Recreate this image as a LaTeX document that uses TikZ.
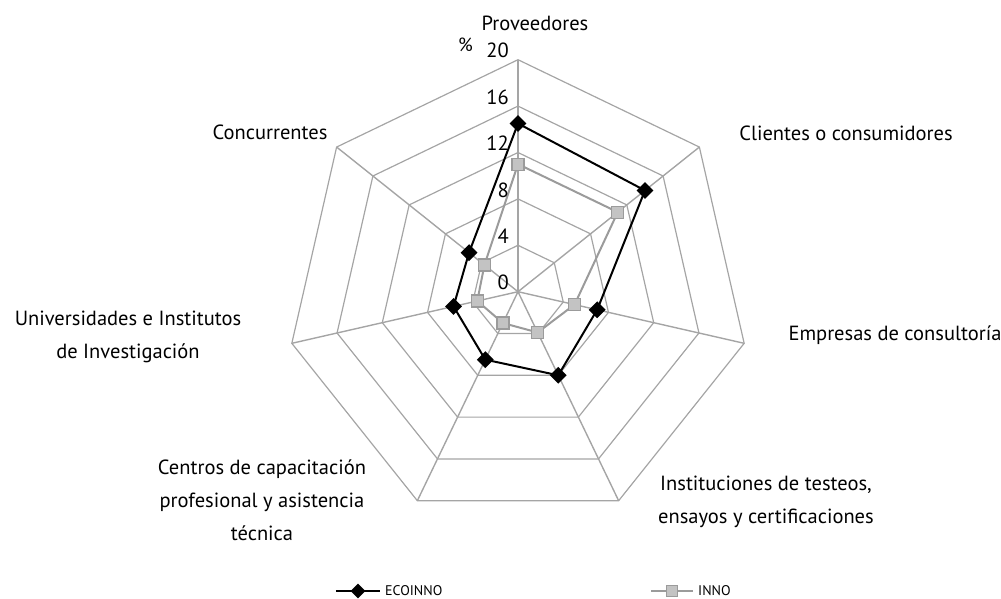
\documentclass[tikz,border=0pt]{standalone}
\usepackage{fontspec}
\setmainfont{PT Sans}
\usetikzlibrary{shapes.geometric}
\definecolor{gridgray}{RGB}{165,165,165}
\definecolor{innoline}{RGB}{155,155,155}
\definecolor{innofill}{RGB}{195,195,195}
\begin{document}
\begin{tikzpicture}[x=1pt,y=1pt,
        axislabel/.style={font=\fontsize{20.5}{33}\selectfont, align=center},
        ticklabel/.style={font=\fontsize{20.5}{24}\selectfont, anchor=east},
        ecomark/.style={diamond, fill=black, minimum size=17pt},
        innomark/.style={rectangle, fill=innofill, draw=innoline, line width=1.2pt, minimum size=12pt}]
        \tikzstyle{every node}+=[inner sep=0pt]
        \useasboundingbox (-518,-306.3) rectangle (483,291.7);
        \begin{scope}[x=11.6pt,y=11.6pt]
        % rings
        \draw [gridgray, line width=1.2pt] (90:4) -- (38.571:4) -- (-12.857:4) -- (-64.286:4) -- (-115.714:4) -- (-167.143:4) -- (141.429:4) -- cycle;
        \draw [gridgray, line width=1.2pt] (90:8) -- (38.571:8) -- (-12.857:8) -- (-64.286:8) -- (-115.714:8) -- (-167.143:8) -- (141.429:8) -- cycle;
        \draw [gridgray, line width=1.2pt] (90:12) -- (38.571:12) -- (-12.857:12) -- (-64.286:12) -- (-115.714:12) -- (-167.143:12) -- (141.429:12) -- cycle;
        \draw [gridgray, line width=1.2pt] (90:16) -- (38.571:16) -- (-12.857:16) -- (-64.286:16) -- (-115.714:16) -- (-167.143:16) -- (141.429:16) -- cycle;
        \draw [gridgray, line width=1.2pt] (90:20) -- (38.571:20) -- (-12.857:20) -- (-64.286:20) -- (-115.714:20) -- (-167.143:20) -- (141.429:20) -- cycle;
        % spokes
        \coordinate (o) at (0,0);
        \draw [gridgray, line width=1.4pt] (o) -- (90:20);
        \draw [gridgray, line width=1.4pt] (o) -- (38.571:20);
        \draw [gridgray, line width=1.4pt] (o) -- (-12.857:20);
        \draw [gridgray, line width=1.4pt] (o) -- (-64.286:20);
        \draw [gridgray, line width=1.4pt] (o) -- (-115.714:20);
        \draw [gridgray, line width=1.4pt] (o) -- (-167.143:20);
        \draw [gridgray, line width=1.4pt] (o) -- (141.429:20);
        % INNO
        \coordinate (i1) at (90:11);
        \coordinate (i2) at (38.571:11);
        \coordinate (i3) at (-12.857:5);
        \coordinate (i4) at (-64.286:3.9);
        \coordinate (i5) at (-115.714:3);
        \coordinate (i6) at (-167.143:3.6);
        \coordinate (i7) at (141.429:3.7);
        \draw [innoline, line width=2pt] (i1) -- (i2) -- (i3) -- (i4) -- (i5) -- (i6) -- (i7) -- cycle;
        % ECOINNO
        \coordinate (e1) at (90:14.5);
        \coordinate (e2) at (38.571:14);
        \coordinate (e3) at (-12.857:7);
        \coordinate (e4) at (-64.286:8);
        \coordinate (e5) at (-115.714:6.5);
        \coordinate (e6) at (-167.143:5.7);
        \coordinate (e7) at (141.429:5.4);
        \draw [black, line width=2pt] (e1) -- (e2) -- (e3) -- (e4) -- (e5) -- (e6) -- (e7) -- cycle;
        \end{scope}
        \node [innomark] (mi1) at (i1) {};
        \node [innomark] (mi2) at (i2) {};
        \node [innomark] (mi3) at (i3) {};
        \node [innomark] (mi4) at (i4) {};
        \node [innomark] (mi5) at (i5) {};
        \node [innomark] (mi6) at (i6) {};
        \node [innomark] (mi7) at (i7) {};
        \node [ecomark] (me1) at (e1) {};
        \node [ecomark] (me2) at (e2) {};
        \node [ecomark] (me3) at (e3) {};
        \node [ecomark] (me4) at (e4) {};
        \node [ecomark] (me5) at (e5) {};
        \node [ecomark] (me6) at (e6) {};
        \node [ecomark] (me7) at (e7) {};
        % scale
        \node [ticklabel] (t0) at (-9,9) {0};
        \node [ticklabel] (t4) at (-9,55.4) {4};
        \node [ticklabel] (t8) at (-9,101.8) {8};
        \node [ticklabel] (t12) at (-9,148.2) {12};
        \node [ticklabel] (t16) at (-9,194.6) {16};
        \node [ticklabel] (t20) at (-9,241) {20};
        \node [ticklabel, font=\fontsize{19}{22}\selectfont] (pct) at (-45,247) {\%};
        % axis names
        \node [axislabel] (prov) at (17,268.7) {Proveedores};
        \node [axislabel] (cli) at (328,158.7) {Clientes o consumidores};
        \node [axislabel] (emp) at (377,-43.3) {Empresas de consultoría};
        \node [axislabel] (inst) at (248,-209.8) {Instituciones de testeos,\\ensayos y certificaciones};
        \node [axislabel] (cent) at (-256,-208.3) {Centros de capacitación\\profesional y asistencia\\técnica};
        \node [axislabel] (univ) at (-390,-44.8) {Universidades e Institutos\\de Investigación};
        \node [axislabel] (conc) at (-248,159.7) {Concurrentes};
        % legend
        \coordinate (la) at (-182,-299.3);
        \coordinate (lb) at (-138,-299.3);
        \draw [black, line width=2pt] (la) -- (lb);
        \node [ecomark, minimum size=15pt] (leco) at (-160,-299.3) {};
        \node [anchor=west, font=\fontsize{14}{16}\selectfont] (teco) at (-133,-299.3) {ECOINNO};
        \coordinate (lc) at (133,-299.3);
        \coordinate (ld) at (175,-299.3);
        \draw [innoline, line width=2pt] (lc) -- (ld);
        \node [innomark, minimum size=11pt] (linno) at (154,-299.3) {};
        \node [anchor=west, font=\fontsize{14}{16}\selectfont] (tinno) at (180,-299.3) {INNO};
\end{tikzpicture}
\end{document}
